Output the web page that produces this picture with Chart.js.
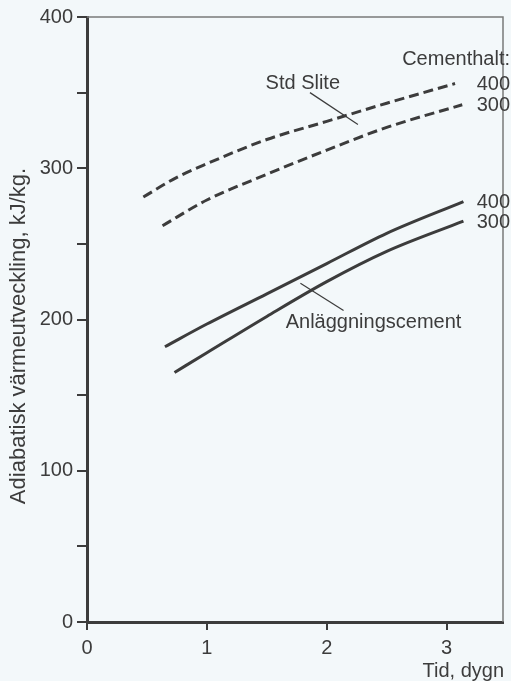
<!doctype html>
<html><head><meta charset="utf-8"/>
<title>Adiabatisk värmeutveckling</title>
<script src="https://cdn.jsdelivr.net/npm/chart.js@4"></script>
<style>
  html,body{margin:0;padding:0;background:#f3f8fa;}
  #wrap{width:511px;height:681px;position:relative;}
</style></head><body><div id="wrap"><canvas id="c" width="511" height="681"></canvas></div>
<script>
// Tid, dygn (x) and värmeutveckling kJ/kg (y)
const slite400X = [0.47, 0.75, 1.0, 1.5, 2.0, 2.5, 3.07];
const slite400Y = [281, 294, 303, 319, 331, 343, 356];
const slite300X = [0.63, 1.0, 1.5, 2.0, 2.5, 3.13];
const slite300Y = [262, 279, 296, 312, 327, 342];
const anl400X = [0.65, 1.0, 1.5, 2.0, 2.5, 3.14];
const anl400Y = [182, 197, 217, 237, 257, 278];
const anl300X = [0.73, 1.0, 1.5, 2.0, 2.5, 3.14];
const anl300Y = [165, 178, 202, 225, 245, 265];
const seriesLabels = ['400', '300', '400', '300'];
const yTicks = [0, 100, 200, 300, 400];
const xTicks = [0, 1, 2, 3];

const INK = '#3c3c3c';
const FONT = '"Liberation Sans", Arial, Helvetica, sans-serif';
const pts = (xs, ys) => xs.map((x, i) => ({ x, y: ys[i] }));
const line = (data, dashed) => ({
  data, borderColor: INK, borderWidth: 3, pointRadius: 0, fill: false,
  borderDash: dashed ? [10, 5] : [], tension: 0.4, cubicInterpolationMode: 'monotone',
});

const decor = {
  id: 'decor',
  beforeDraw(chart) {
    const { ctx } = chart;
    ctx.save();
    ctx.fillStyle = '#f3f8fa';
    ctx.fillRect(0, 0, chart.width, chart.height);
    ctx.restore();
  },
  afterDatasetsDraw(chart) {
    const { ctx, chartArea: a, scales: { x, y } } = chart;
    ctx.save();
    // thin frame top and right
    ctx.strokeStyle = '#7a7a7a'; ctx.lineWidth = 1.5;
    ctx.beginPath(); ctx.moveTo(a.left, a.top); ctx.lineTo(a.right, a.top); ctx.lineTo(a.right, a.bottom); ctx.stroke();

    ctx.fillStyle = INK; ctx.font = '20px ' + FONT; ctx.textBaseline = 'middle';
    // end labels (cement content)
    ctx.textAlign = 'right';
    const ends = [slite400Y, slite300Y, anl400Y, anl300Y].map((s) => s[s.length - 1]);
    ends.forEach((v, i) => ctx.fillText(seriesLabels[i], 510, y.getPixelForValue(v) + 1));
    ctx.fillText('Cementhalt:', 510, y.getPixelForValue(ends[0]) - 24);

    // curve names with leader lines
    ctx.textAlign = 'center';
    ctx.fillText('Std Slite', x.getPixelForValue(1.8), y.getPixelForValue(356));
    ctx.fillText('Anläggningscement', x.getPixelForValue(2.39), y.getPixelForValue(198));
    ctx.strokeStyle = INK; ctx.lineWidth = 1.2;
    const lead = (x0, y0, x1, y1) => {
      ctx.beginPath();
      ctx.moveTo(x.getPixelForValue(x0), y.getPixelForValue(y0));
      ctx.lineTo(x.getPixelForValue(x1), y.getPixelForValue(y1));
      ctx.stroke();
    };
    lead(1.86, 350, 2.26, 329);
    lead(1.78, 224, 2.14, 206);

    // axis titles
    ctx.textAlign = 'right';
    ctx.fillText('Tid, dygn', 504, 671);
    ctx.translate(19, 336); ctx.rotate(-Math.PI / 2);
    ctx.textAlign = 'center';
    ctx.font = '22px ' + FONT;
    ctx.fillText('Adiabatisk värmeutveckling, kJ/kg.', 0, 0);
    ctx.restore();
  },
};

new Chart(document.getElementById('c'), {
  type: 'line',
  data: {
    datasets: [
      line(pts(slite400X, slite400Y), true),
      line(pts(slite300X, slite300Y), true),
      line(pts(anl400X, anl400Y), false),
      line(pts(anl300X, anl300Y), false),
    ],
  },
  options: {
    responsive: false, animation: false,
    layout: { padding: { top: 17, right: 8, left: 0, bottom: 0 } },
    plugins: { legend: { display: false }, tooltip: { enabled: false } },
    scales: {
      x: {
        type: 'linear', min: 0, max: 3.47,
        afterBuildTicks: (s) => { s.ticks = xTicks.map((v) => ({ value: v })); },
        afterFit: (s) => { s.height = 59; },
        border: { color: INK, width: 3 },
        grid: { drawOnChartArea: false, color: INK, lineWidth: 2, tickLength: 8 },
        ticks: { color: INK, font: { family: FONT, size: 20 }, padding: 6, maxRotation: 0 },
      },
      y: {
        min: 0, max: 400,
        afterBuildTicks: (s) => {
          const t = [];
          for (let i = 0; i < yTicks.length; i++) {
            t.push({ value: yTicks[i] });
            if (i < yTicks.length - 1) t.push({ value: (yTicks[i] + yTicks[i + 1]) / 2 });
          }
          s.ticks = t;
        },
        afterFit: (s) => { s.width = 87; },
        border: { color: INK, width: 3 },
        grid: { drawOnChartArea: false, color: INK, lineWidth: 2, tickLength: 10 },
        ticks: {
          color: INK, font: { family: FONT, size: 20 }, padding: 4,
          callback: (v) => (yTicks.includes(v) ? String(v) : ''),
        },
      },
    },
  },
  plugins: [decor],
});
</script></body></html>
